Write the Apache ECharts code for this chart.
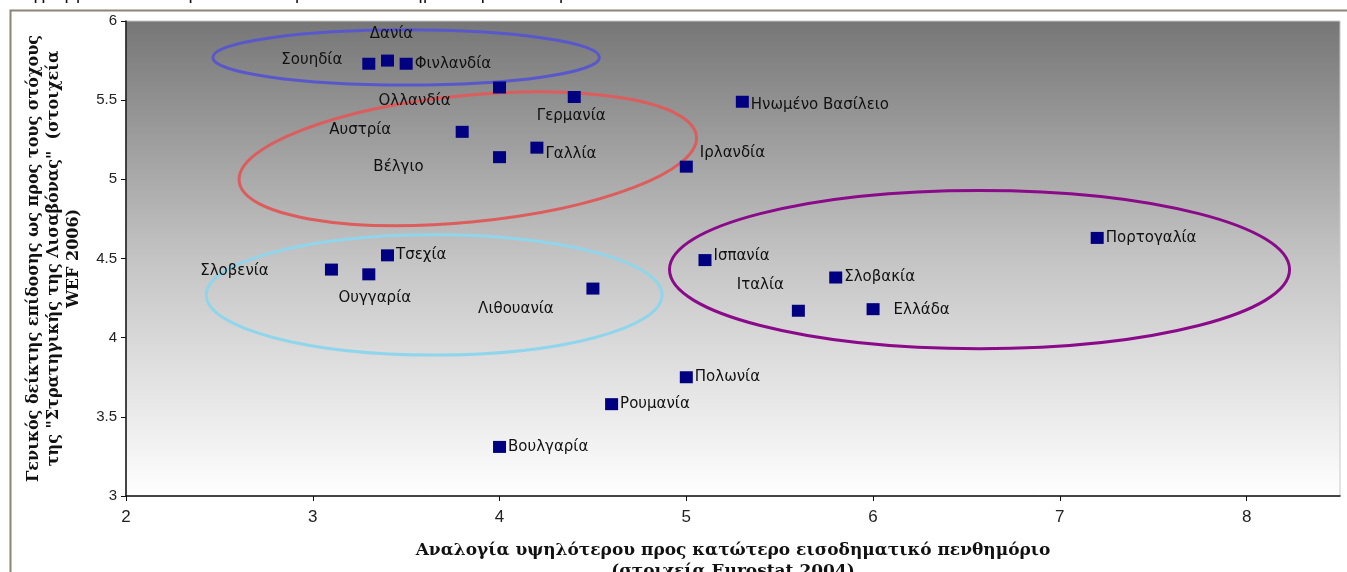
<!DOCTYPE html>
<html>
<head>
<meta charset="utf-8">
<script src="https://cdn.jsdelivr.net/npm/echarts@6/dist/echarts.min.js"></script>
<style>
  html, body { margin: 0; padding: 0; background: #fff; }
  #chart { width: 1347px; height: 572px; }
</style>
</head>
<body>
<div id="chart"></div>
<script>
// χώρες και τιμές (λόγος S80/S20 Eurostat 2004, δείκτης Λισαβόνας WEF 2006)
const countries = ['Σουηδία', 'Δανία', 'Φινλανδία', 'Ολλανδία', 'Γερμανία', 'Ηνωμένο Βασίλειο',
  'Αυστρία', 'Γαλλία', 'Βέλγιο', 'Ιρλανδία', 'Σλοβενία', 'Τσεχία', 'Ουγγαρία', 'Λιθουανία',
  'Ισπανία', 'Πορτογαλία', 'Σλοβακία', 'Ιταλία', 'Ελλάδα', 'Πολωνία', 'Ρουμανία', 'Βουλγαρία'];
const incomeRatio = [3.3, 3.4, 3.5, 4.0, 4.4, 5.3, 3.8, 4.2, 4.0, 5.0, 3.1, 3.4, 3.3, 4.5,
  5.1, 7.2, 5.8, 5.6, 6.0, 5.0, 4.6, 4.0];
const lisbonIndex = [5.73, 5.75, 5.73, 5.58, 5.52, 5.49, 5.30, 5.20, 5.14, 5.08, 4.43, 4.52, 4.40, 4.31,
  4.49, 4.63, 4.38, 4.17, 4.18, 3.75, 3.58, 3.31];

// ομάδες χωρών (ελλείψεις): κέντρο, ημιάξονες σε μονάδες αξόνων, κλίση σε μοίρες
const groupCx = [3.50, 3.83, 3.65, 6.57];
const groupCy = [5.77, 5.13, 4.27, 4.43];
const groupRx = [1.035, 1.23, 1.22, 1.66];
const groupRy = [0.174, 0.40, 0.38, 0.50];
const groupTilt = [0, 5.6, 0, 0];
const groupColors = ['#5858cc', '#dd5c5c', '#8fd6ec', '#8a0a8a'];

const xTicks = [2, 8.5, 1];
const yTicks = [3, 6, 0.5];

// θέση ετικετών (στυλ)
const labelPlace = {
  'Σουηδία': { position: 'left', distance: 20, offset: [0, -4] },
  'Δανία': { position: 'top', distance: 13, offset: [4, 0] },
  'Ολλανδία': { position: 'inside', offset: [-85, 14] },
  'Γερμανία': { position: 'bottom', distance: 6, offset: [-3, 0] },
  'Ηνωμένο Βασίλειο': { position: 'right', distance: 2, offset: [0, 3] },
  'Αυστρία': { position: 'inside', offset: [-102, -2] },
  'Γαλλία': { position: 'right', distance: 2, offset: [0, 6] },
  'Βέλγιο': { position: 'inside', offset: [-101, 10] },
  'Ιρλανδία': { position: 'right', distance: 7, offset: [0, -14] },
  'Σλοβενία': { position: 'inside', offset: [-97, 2] },
  'Ουγγαρία': { position: 'inside', offset: [6, 24] },
  'Λιθουανία': { position: 'inside', offset: [-77, 21] },
  'Ισπανία': { position: 'right', distance: 2, offset: [0, -4] },
  'Ιταλία': { position: 'inside', offset: [-38, -26] },
  'Ελλάδα': { position: 'right', distance: 14, offset: [0, 1] }
};

const chart = echarts.init(document.getElementById('chart'));

const pointData = countries.map((name, i) => {
  const item = { name: name, value: [incomeRatio[i], lisbonIndex[i]] };
  if (labelPlace[name]) item.label = labelPlace[name];
  return item;
});
const ellipseData = groupCx.map((cx, i) => [cx, groupCy[i], groupRx[i], groupRy[i], groupTilt[i]]);

const option = {
  animation: false,
  graphic: [
    { // λεζάντα του διαγράμματος (κομμένη στο πάνω μέρος)
      type: 'text', left: 0, top: -15, silent: true,
      style: { text: 'Διάγραμμα 2Χ: Ανταγωνιστικότητα και εισοδηματική ανισότητα',
        font: '18px "DejaVu Sans", sans-serif', fill: '#111' }
    },
    { // πλαίσιο
      type: 'rect', left: 8, top: 8, silent: true, z: -10,
      shape: { width: 1400, height: 640 },
      style: { fill: 'none', stroke: '#8c8474', lineWidth: 2 }
    }
  ],
  grid: {
    left: 126, right: 7, top: 21, bottom: 76,
    containLabel: false,
    outerBoundsMode: 'none',
    show: true,
    borderColor: '#c8c8c8', borderWidth: 1,
    backgroundColor: {
      type: 'linear', x: 0, y: 0, x2: 0, y2: 1,
      colorStops: [{ offset: 0, color: '#767676' }, { offset: 0.5, color: '#c4c4c4' }, { offset: 1, color: '#ffffff' }]
    }
  },
  xAxis: {
    type: 'value', min: xTicks[0], max: xTicks[1], interval: xTicks[2],
    name: 'Αναλογία υψηλότερου προς κατώτερο εισοδηματικό πενθημόριο\n(στοιχεία Eurostat 2004)',
    nameLocation: 'middle', nameGap: 44,
    nameTextStyle: { fontFamily: '"DejaVu Serif", serif', fontWeight: 'bold', fontSize: 17, color: '#111', lineHeight: 21 },
    axisLine: { show: true, onZero: false, lineStyle: { color: '#111', width: 1.5 } },
    axisTick: { show: true, length: 5, lineStyle: { color: '#111' } },
    axisLabel: { margin: 13, fontSize: 17, color: '#222', showMaxLabel: false,
      fontFamily: '"Liberation Sans Narrow", "Liberation Sans", sans-serif' },
    splitLine: { show: false }
  },
  yAxis: {
    type: 'value', min: yTicks[0], max: yTicks[1], interval: yTicks[2],
    name: 'Γενικός δείκτης επίδοσης ως προς τους στόχους\nτης "Στρατηγικής της Λισαβόνας"  (στοιχεία\nWEF 2006)',
    nameLocation: 'middle', nameGap: 42, nameRotate: 90,
    nameTextStyle: { fontFamily: '"DejaVu Serif", serif', fontWeight: 'bold', fontSize: 16, color: '#111', lineHeight: 20 },
    axisLine: { show: true, onZero: false, lineStyle: { color: '#111', width: 1.5 } },
    axisTick: { show: true, length: 5, lineStyle: { color: '#111' } },
    axisLabel: { margin: 9, fontSize: 15, color: '#222', fontFamily: '"Liberation Sans", sans-serif' },
    splitLine: { show: false }
  },
  series: [
    {
      type: 'custom',
      silent: true,
      data: ellipseData,
      encode: { x: 0, y: 1 },
      renderItem: function (params, api) {
        const c = api.coord([api.value(0), api.value(1)]);
        const s = api.size([api.value(2), api.value(3)]);
        return {
          type: 'ellipse',
          x: c[0], y: c[1],
          rotation: api.value(4) * Math.PI / 180,
          shape: { cx: 0, cy: 0, rx: s[0], ry: s[1] },
          style: { fill: 'none', stroke: groupColors[params.dataIndex], lineWidth: 3 }
        };
      },
      z: 2
    },
    {
      type: 'scatter',
      data: pointData,
      symbol: 'rect',
      symbolSize: [13, 12],
      itemStyle: { color: '#000080', opacity: 1 },
      label: {
        show: true,
        position: 'right',
        distance: 2,
        formatter: '{b}',
        fontSize: 15,
        color: '#111',
        fontFamily: '"DejaVu Sans", sans-serif'
      },
      z: 3
    }
  ]
};

chart.setOption(option);
</script>
</body>
</html>
